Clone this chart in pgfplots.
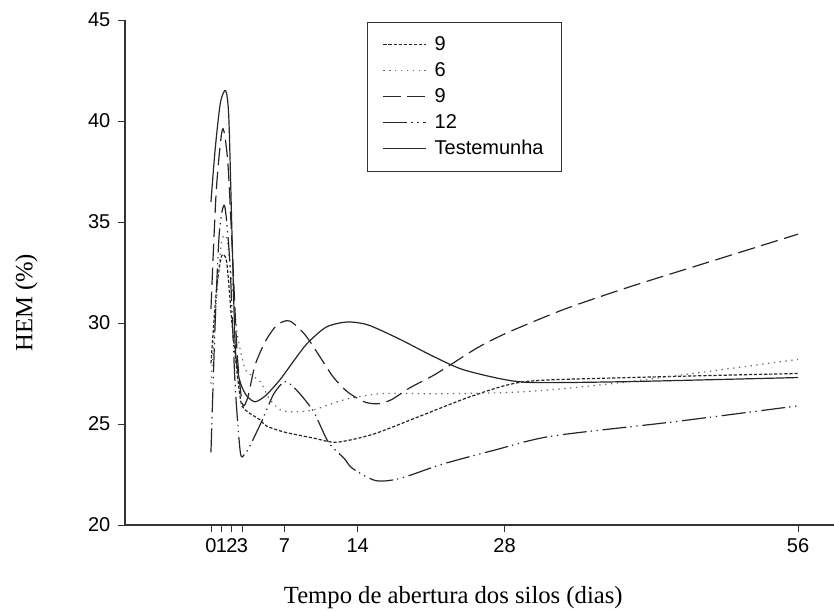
\documentclass[border=0pt]{standalone}
\usepackage{pgfplots}
\pgfplotsset{compat=1.18}
\usepackage{fontspec}
\setmainfont{Liberation Serif}
\setsansfont{Liberation Sans}

% HEM (%) over silo opening time, one table per treatment
\pgfplotstableread{
x y
0 28.0
0.5 31.5
1 33.3
1.5 33.0
2 30.0
2.5 27.5
2.9 26.0
3.5 25.6
4.7 25.2
5.3 24.9
7 24.6
9.8 24.3
12 24.1
15.5 24.5
20 25.4
25 26.4
30 27.1
40 27.3
56 27.5
}\tblA
\pgfplotstableread{
x y
0 27.0
0.5 31.0
1 34.0
1.5 34.2
2 32.0
2.5 29.5
3 28.2
3.4 27.6
4.7 27.1
5.5 26.3
6.6 25.7
8 25.6
9.8 25.7
12.7 26.2
16.2 26.5
22 26.5
30 26.6
40 27.1
56 28.2
}\tblB
\pgfplotstableread{
x y
0 30.7
0.5 36.5
1.1 39.6
1.6 38.0
2 34.0
2.5 28.5
3 26.0
3.5 26.3
4.2 27.9
5.2 29.1
6.3 29.9
7.5 30.1
9 29.4
10.8 28.0
11.7 27.3
13 26.6
14.6 26.1
15.9 26.0
17.2 26.2
19 26.8
21.2 27.4
22.9 27.95
25.5 28.8
28.4 29.55
33.8 30.7
40 31.8
48 33.1
56 34.4
}\tblC
\pgfplotstableread{
x y
0 23.6
0.4 30.0
0.8 34.5
1.3 35.8
1.8 33.0
2.3 27.0
2.8 23.6
3.2 23.5
3.7 23.9
4.9 25.2
6 26.5
7.1 27.1
8.3 26.6
9.8 25.6
11.2 24.1
12.7 23.3
13.5 22.8
15.7 22.2
18 22.3
22 23.0
27 23.7
32.5 24.4
44 25.1
56 25.9
}\tblD
\pgfplotstableread{
x y
0 36.0
0.4 38.6
0.9 40.9
1.4 41.5
1.7 40.2
2.0 34.5
2.3 29.0
2.6 27.5
2.9 26.9
3.4 26.4
4.2 26.1
5.2 26.4
6.6 27.2
8 28.2
9.2 29.0
11 29.8
13 30.05
15 29.9
18 29.2
21 28.4
24 27.7
28 27.2
31 27.05
40 27.1
56 27.3
}\tblE

\begin{document}
\begin{tikzpicture}
\path[use as bounding box] (-93.75pt,-63.75pt) rectangle (531.75pt,393.75pt);
\begin{axis}[
  at={(0pt,0pt)}, anchor=south west,
  scale only axis, width=531.75pt, height=378.75pt,
  xmin=-8.2, xmax=59.43, ymin=20, ymax=45,
  axis lines=left, axis line style={-, line width=0.8pt, black!80},
  xtick={0,1,2,3,7,14,28,56},
  ytick={20,25,30,35,40,45},
  tick align=outside, major tick length=5.5pt,
  tick style={black!80, line width=0.7pt},
  tick label style={font=\sffamily\fontsize{15}{17}\selectfont},
  /pgf/number format/assume math mode=true,
  xticklabel style={yshift=-1pt, inner xsep=0pt},
  yticklabel style={xshift=-2pt},
  xlabel={Tempo de abertura dos silos (dias)},
  ylabel={HEM (\%)},
  label style={font=\rmfamily\fontsize{18.5}{21}\selectfont},
  xlabel style={at={(axis description cs:0.463,0)}, anchor=base, yshift=-58.5pt},
  ylabel style={at={(axis description cs:0,0.44)}, anchor=center, yshift=74pt},
  legend style={at={(0.3413,0.997)}, anchor=north west,
    draw=black!80, line width=0.7pt, font=\sffamily\fontsize{15}{17}\selectfont,
    row sep=3.5pt, inner xsep=11.5pt, inner ysep=9pt,
    legend cell align=left,
    /tikz/every odd column/.append style={column sep=4pt}},
  legend image code/.code={\draw[#1] (0pt,0pt) -- (32pt,0pt);},
  every axis plot/.append style={line width=0.9pt, black!85, smooth, tension=0.45},
]
\addplot[dash pattern=on 2.4pt off 1.4pt] table {\tblA};
\addlegendentry{9}
\addplot[black!60, dash pattern=on 1pt off 3.4pt] table {\tblB};
\addlegendentry{6}
\addplot[dash pattern=on 13pt off 5pt] table {\tblC};
\addlegendentry{9}
\addplot[dash pattern=on 18pt off 3pt on 1pt off 3.5pt on 1pt off 3.5pt] table {\tblD};
\addlegendentry{12}
\addplot[solid] table {\tblE};
\addlegendentry{Testemunha}
\end{axis}
\end{tikzpicture}
\end{document}
